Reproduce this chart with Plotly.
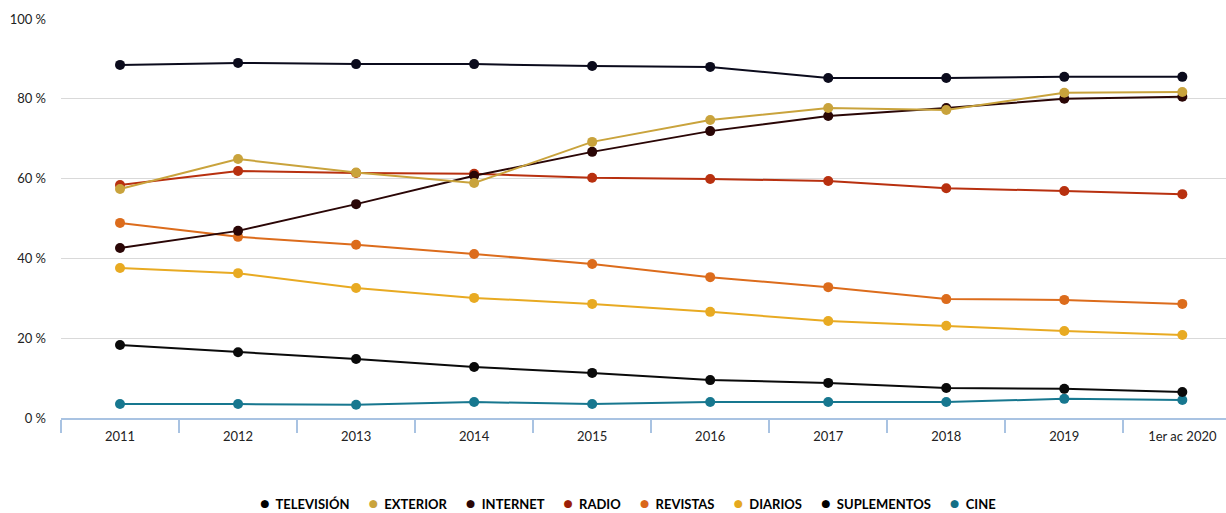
import plotly.graph_objects as go

# Categories on the x axis
years = ["2011", "2012", "2013", "2014", "2015", "2016", "2017", "2018", "2019", "1er ac 2020"]

# Audience reach per medium (%)
television = [88.5, 89.0, 88.7, 88.7, 88.2, 88.0, 85.2, 85.2, 85.5, 85.5]
exterior = [57.4, 64.9, 61.5, 58.9, 69.2, 74.7, 77.7, 77.2, 81.5, 81.7]
internet = [42.6, 46.9, 53.6, 60.7, 66.7, 71.9, 75.7, 77.7, 80.0, 80.5]
radio = [58.4, 61.9, 61.4, 61.2, 60.2, 59.9, 59.4, 57.6, 56.9, 56.1]
revistas = [48.9, 45.4, 43.4, 41.1, 38.6, 35.3, 32.8, 29.8, 29.6, 28.6]
diarios = [37.6, 36.3, 32.6, 30.1, 28.6, 26.6, 24.3, 23.1, 21.8, 20.8]
suplementos = [18.3, 16.5, 14.8, 12.8, 11.3, 9.5, 8.8, 7.5, 7.3, 6.5]
cine = [3.5, 3.5, 3.3, 4.0, 3.5, 4.0, 4.0, 4.0, 4.8, 4.5]

y_ticks = [0, 20, 40, 60, 80, 100]
y_tick_labels = ["0 %", "20 %", "40 %", "60 %", "80 %", "100 %"]

series = [
    ("TELEVISIÓN", television, "#0b0b1c", "#000000"),
    ("EXTERIOR", exterior, "#c9a33c", "#c9a33c"),
    ("INTERNET", internet, "#2a0606", "#2a0606"),
    ("RADIO", radio, "#b8300f", "#9c1f08"),
    ("REVISTAS", revistas, "#dc6c1c", "#d9661a"),
    ("DIARIOS", diarios, "#e8aa22", "#e5a91f"),
    ("SUPLEMENTOS", suplementos, "#0a0a0a", "#000000"),
    ("CINE", cine, "#17778f", "#136f86"),
]

fig = go.Figure()

# Draw in reverse so the first series sit on top of the plot
for name, vals, color, _ in reversed(series):
    fig.add_trace(go.Scatter(
        x=years, y=vals, mode="lines+markers", name=name,
        line=dict(color=color, width=2),
        marker=dict(color=color, size=10),
        showlegend=False,
    ))

font_family = "Lato, sans-serif"

# Compact one-line legend built as a text row: coloured dot + series name
nb = "\u00a0"
legend_items = [
    f"<span style='color:{lc}; font-size:16px'>●</span>{nb * 2}{name}"
    for name, _, _, lc in series
]
legend_text = (nb * 6).join(legend_items)

fig.update_layout(
    width=1226, height=513,
    margin=dict(l=61, r=0, t=19, b=95),
    paper_bgcolor="white",
    plot_bgcolor="white",
    showlegend=False,
    font=dict(family=font_family, size=12, color="#222222"),
    xaxis=dict(
        type="category",
        categoryorder="array",
        categoryarray=years,
        range=[-0.5, 9.37],
        showgrid=False,
        showline=True,
        linecolor="#a9c3e2",
        linewidth=1.5,
        ticks="outside",
        tickson="boundaries",
        ticklen=13,
        tickcolor="#a9c3e2",
        tickwidth=1.5,
        ticklabelstandoff=6,
        tickfont=dict(family=font_family, size=13, color="#222222"),
        fixedrange=True,
    ),
    yaxis=dict(
        range=[0, 100],
        tickvals=y_ticks,
        ticktext=y_tick_labels,
        showgrid=True,
        gridcolor="#d9d9d9",
        gridwidth=1,
        zeroline=False,
        showline=False,
        ticks="",
        ticklabelstandoff=14,
        tickfont=dict(family=font_family, size=13, color="#222222"),
        fixedrange=True,
    ),
    annotations=[dict(
        text=legend_text,
        xref="paper", yref="paper",
        x=0.487, y=-0.213,
        xanchor="center", yanchor="middle",
        showarrow=False,
        font=dict(family=font_family, size=13, color="#000000", weight="bold"),
    )],
)

fig.write_html("out.html")
